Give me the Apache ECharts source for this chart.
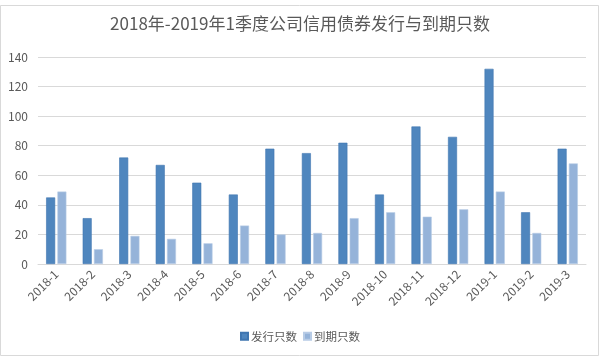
<!DOCTYPE html>
<html><head><meta charset="utf-8">
<script src="https://cdn.jsdelivr.net/npm/echarts@6/dist/echarts.min.js"></script>
<style>html,body{margin:0;padding:0;background:#fff}#c{width:600px;height:357px}</style>
</head><body><div id="c"></div>
<script>
const categories = ['2018-1','2018-2','2018-3','2018-4','2018-5','2018-6','2018-7','2018-8','2018-9','2018-10','2018-11','2018-12','2019-1','2019-2','2019-3'];
const issued = [45,31,72,67,55,47,78,75,82,47,93,86,132,35,78];
const matured = [49,10,19,17,14,26,20,21,31,35,32,37,49,21,68];
const seriesNames = ['发行只数','到期只数'];
const titleText = '2018年-2019年1季度公司信用债券发行与到期只数';

const chart = echarts.init(document.getElementById('c'), null, {renderer:'canvas'});
const font = '"Noto Sans CJK SC", "Open Sans", sans-serif';
chart.setOption({
  animation:false,
  backgroundColor:'#fff',
  graphic:[{type:'rect',shape:{x:0.5,y:5.5,width:598,height:350},style:{fill:'none',stroke:'#d9d9d9',lineWidth:1}}],
  title:{text:titleText,left:'center',top:10,textStyle:{fontFamily:font,fontSize:17,fontWeight:'normal',color:'#595959'}},
  legend:{bottom:10,left:'center',itemWidth:7,itemHeight:7,itemGap:6,icon:'rect',
    textStyle:{fontFamily:font,fontSize:11.5,color:'#595959',padding:[0,0,0,-2]},data:seriesNames},
  grid:{left:38,right:14,top:57,bottom:93,containLabel:false},
  xAxis:{type:'category',data:categories,
    axisLine:{lineStyle:{color:'#d9d9d9'}},axisTick:{show:false},
    axisLabel:{rotate:45,interval:0,fontFamily:font,fontSize:12,color:'#595959',margin:8}},
  yAxis:{type:'value',min:0,max:140,interval:20,
    axisLine:{show:false},axisTick:{show:false},
    splitLine:{lineStyle:{color:'#d9d9d9'}},
    axisLabel:{fontFamily:font,fontSize:12,color:'#595959',margin:10}},
  series:[
    {name:seriesNames[0],type:'bar',data:issued,barWidth:9,barGap:'25%',
     itemStyle:{color:'#4f86be',borderColor:'#3f76b0',borderWidth:0.6}},
    {name:seriesNames[1],type:'bar',data:matured,barWidth:9,
     itemStyle:{color:'#95b3d9',borderColor:'#b8cce6',borderWidth:0.6}}
  ]
});
</script></body></html>
